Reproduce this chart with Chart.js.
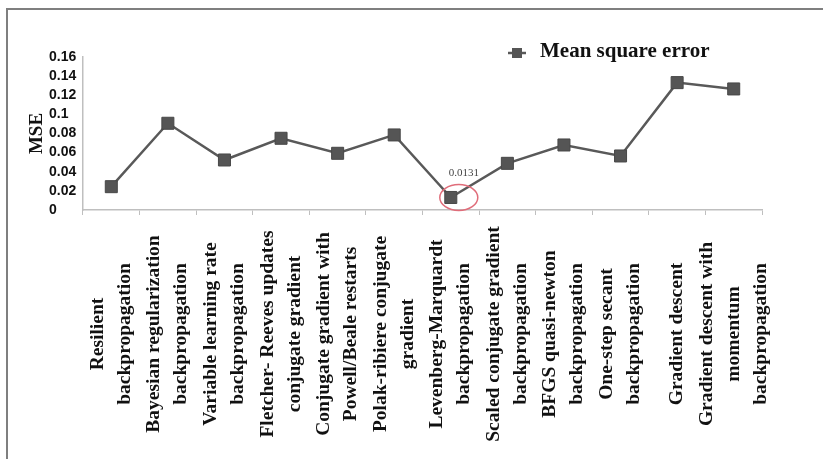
<!DOCTYPE html>
<html>
<head>
<meta charset="utf-8">
<script src="https://cdn.jsdelivr.net/npm/chart.js@4.4.1/dist/chart.umd.min.js"></script>
<style>
  html, body { margin: 0; padding: 0; background: #fff; }
  #frame { position: absolute; left: 6px; top: 8px; width: 817px; height: 451px;
           border-left: 2px solid #7f7f7f; border-top: 2px solid #7f7f7f; box-sizing: border-box; }
  #wrap { position: absolute; left: 0; top: 0; width: 823px; height: 459px; }
</style>
</head>
<body>
<div id="frame"></div>
<div id="wrap"><canvas id="mseChart"></canvas></div>
<script>
// categories (one entry per training algorithm, split in lines as in the figure)
const algorithms = [
    ['Resilient', 'backpropagation'],
    ['Bayesian regularization', 'backpropagation'],
    ['Variable learning rate', 'backpropagation'],
    ['Fletcher- Reeves updates', 'conjugate gradient'],
    ['Conjugate gradient with', 'Powell/Beale restarts'],
    ['Polak-ribiere conjugate', 'gradient'],
    ['Levenberg-Marquardt', 'backpropagation'],
    ['Scaled conjugate gradient', 'backpropagation'],
    ['BFGS quasi-newton', 'backpropagation'],
    ['One-step secant', 'backpropagation'],
    ['Gradient descent'],
    ['Gradient descent with', 'momentum', 'backpropagation']
];

// Mean square error per algorithm
const mseValues = [0.0244, 0.0907, 0.0523, 0.075, 0.0593, 0.0785, 0.0131, 0.0488, 0.068, 0.0565, 0.1332, 0.1266];

const yTickValues = [0, 0.02, 0.04, 0.06, 0.08, 0.1, 0.12, 0.14, 0.16];
const yTickLabels = ['0', '0.02', '0.04', '0.06', '0.08', '0.1', '0.12', '0.14', '0.16'];

const seriesName = 'Mean square error';
const yTitle = 'MSE';
const highlightIndex = 6;   // Levenberg-Marquardt, circled in the figure

const lineColor = '#595959';
const axisColor = '#bfbfbf';

// labels, legend, axis title and the circled point
const extras = {
    id: 'extras',
    afterDraw(chart) {
        const { ctx, chartArea, scales: { x } } = chart;
        ctx.save();

        // category labels, rotated, each line centred
        ctx.fillStyle = '#111';
        ctx.font = 'bold 19.5px "Liberation Serif"';
        ctx.textAlign = 'center';
        ctx.textBaseline = 'middle';
        algorithms.forEach((lines, i) => {
            const cx = x.getPixelForValue(i);
            lines.forEach((line, j) => {
                const lx = cx + (j - (lines.length - 1) / 2) * 27;
                ctx.save();
                ctx.translate(lx, chartArea.bottom + 124);
                ctx.rotate(-Math.PI / 2);
                ctx.fillText(line, 0, 0);
                ctx.restore();
            });
        });

        // y axis title
        ctx.save();
        ctx.font = 'bold 19px "Liberation Serif"';
        ctx.translate(chartArea.left - 46, (chartArea.top + chartArea.bottom) / 2);
        ctx.rotate(-Math.PI / 2);
        ctx.fillText(yTitle, 0, 0);
        ctx.restore();

        // legend
        const lx = chartArea.left + 434;
        const ly = chartArea.top - 4;
        ctx.strokeStyle = lineColor;
        ctx.lineWidth = 2.5;
        ctx.beginPath();
        ctx.moveTo(lx - 9, ly);
        ctx.lineTo(lx + 9, ly);
        ctx.stroke();
        ctx.fillStyle = '#555';
        ctx.fillRect(lx - 5, ly - 5, 10, 10);
        ctx.fillStyle = '#111';
        ctx.textAlign = 'left';
        ctx.font = 'bold 21px "Liberation Serif"';
        ctx.fillText(seriesName, lx + 23, ly - 1);

        // circled point with its value
        const pt = chart.getDatasetMeta(0).data[highlightIndex];
        ctx.strokeStyle = '#e06d7a';
        ctx.lineWidth = 1.5;
        ctx.beginPath();
        ctx.ellipse(pt.x + 8, pt.y, 19, 13, 0, 0, Math.PI * 2);
        ctx.stroke();
        ctx.fillStyle = '#444';
        ctx.textAlign = 'center';
        ctx.font = '11px "Liberation Serif"';
        ctx.fillText(String(mseValues[highlightIndex]), pt.x + 13, pt.y - 24);

        ctx.restore();
    }
};

const mseCtx = document.getElementById('mseChart').getContext('2d');

const mseChart = new Chart(mseCtx, {
    type: 'line',
    data: {
        labels: algorithms,
        datasets: [{
            label: seriesName,
            data: mseValues,
            borderColor: lineColor,
            borderWidth: 2.5,
            tension: 0,
            pointStyle: 'rect',
            pointRadius: 8.5,
            pointBackgroundColor: '#555',
            pointBorderColor: '#484848',
            pointBorderWidth: 1
        }]
    },
    options: {
        responsive: true,
        maintainAspectRatio: false,
        animation: false,
        layout: {
            padding: { left: 49, top: 57, right: 61, bottom: 244 }
        },
        plugins: {
            legend: { display: false },
            tooltip: { enabled: false }
        },
        scales: {
            x: {
                offset: true,
                grid: {
                    display: true,
                    drawOnChartArea: false,
                    offset: true,
                    tickLength: 5,
                    color: axisColor
                },
                border: { color: axisColor, width: 1.5 },
                ticks: { display: false }
            },
            y: {
                min: 0,
                max: 0.16,
                afterBuildTicks: scale => {
                    scale.ticks = yTickValues.map(v => ({ value: v }));
                },
                afterFit: scale => {
                    scale.width = 34;
                },
                grid: { display: false, drawTicks: false },
                border: { color: axisColor, width: 1.5 },
                ticks: {
                    autoSkip: false,
                    crossAlign: 'far',
                    padding: 0,
                    color: '#111',
                    font: { family: '"Liberation Sans"', size: 14, weight: 'bold' },
                    callback: (value, index) => yTickLabels[index]
                }
            }
        }
    },
    plugins: [extras]
});
</script>
</body>
</html>
